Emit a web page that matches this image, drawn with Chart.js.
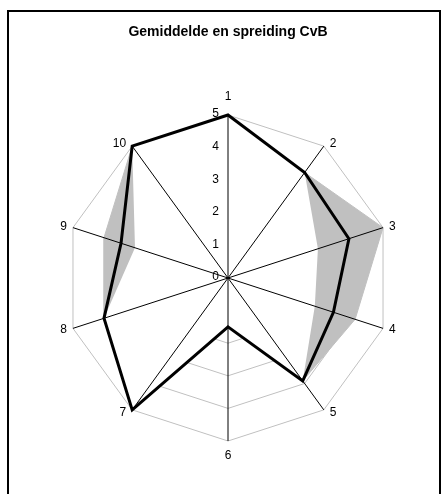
<!DOCTYPE html>
<html>
<head>
<meta charset="utf-8">
<script src="https://cdn.jsdelivr.net/npm/chart.js@4/dist/chart.umd.min.js"></script>
<style>
  html, body { margin: 0; padding: 0; background: #fff; }
  #frame { position: absolute; left: 7px; top: 10px; width: 434px; height: 500px; box-sizing: border-box; border: 2px solid #000; }
  #wrap { position: absolute; left: 0; top: 0; width: 441px; height: 494px; }
</style>
</head>
<body>
<div id="frame"></div>
<div id="wrap"><canvas id="c"></canvas></div>
<script>
const categories = ['1', '2', '3', '4', '5', '6', '7', '8', '9', '10'];
const meanValues = [5, 4, 3.9, 3.4, 3.9, 1.5, 5, 4, 3.45, 5];
const minValues  = [5, 4, 2.9, 2.8, 3.9, 1.5, 5, 4, 3.0, 5];
const maxValues  = [5, 4, 5.0, 4.1, 3.9, 1.5, 5, 4, 4.0, 5];
const titleText = 'Gemiddelde en spreiding CvB';
const FONT = '"Liberation Sans", Arial, sans-serif';

const spokesPlugin = {
  id: 'spokes',
  afterDatasetDraw(chart, args) {
    if (args.index !== 1) return;
    const s = chart.scales.r;
    const ctx = chart.ctx;
    ctx.save();
    ctx.strokeStyle = '#000';
    ctx.lineWidth = 1;
    for (let i = 0; i < categories.length; i++) {
      const p = s.getPointPositionForValue(i, s.max);
      ctx.beginPath();
      ctx.moveTo(s.xCenter, s.yCenter);
      ctx.lineTo(p.x, p.y);
      ctx.stroke();
    }
    ctx.restore();
  },
  afterDraw(chart) {
    const s = chart.scales.r;
    const ctx = chart.ctx;
    ctx.save();
    ctx.fillStyle = '#000';
    ctx.font = '12px ' + FONT;
    ctx.textAlign = 'right';
    ctx.textBaseline = 'middle';
    s.ticks.forEach(t => {
      const y = s.yCenter - s.getDistanceFromCenterForValue(t.value) - 1;
      ctx.fillText(String(t.value), s.xCenter - 9, y);
    });
    const n = categories.length;
    for (let i = 0; i < n; i++) {
      const a = i * 2 * Math.PI / n;
      const sn = Math.sin(a), cs = Math.cos(a);
      const p = s.getPointPositionForValue(i, s.max);
      let x = p.x, y = p.y;
      if (Math.abs(sn) < 1e-6) {
        ctx.textAlign = 'center';
        y = cs > 0 ? p.y - 18 : p.y + 15;
      } else {
        ctx.textAlign = sn > 0 ? 'left' : 'right';
        x = p.x + (sn > 0 ? 6 : -6);
        y = p.y - 3 * cs;
      }
      ctx.fillText(categories[i], x, y);
    }
    ctx.restore();
  }
};

new Chart(document.getElementById('c'), {
  type: 'radar',
  data: {
    labels: categories,
    datasets: [
      { label: 'Gemiddelde', data: meanValues, borderColor: '#000', borderWidth: 3, backgroundColor: 'rgba(0,0,0,0)', fill: false, pointRadius: 0, borderJoinStyle: 'miter' },
      { label: 'Minimum', data: minValues, borderColor: 'rgba(0,0,0,0)', borderWidth: 1, backgroundColor: '#ffffff', fill: 'origin', pointRadius: 0 },
      { label: 'Maximum', data: maxValues, borderColor: '#c0c0c0', borderWidth: 1, backgroundColor: '#c0c0c0', fill: 'origin', pointRadius: 0 }
    ]
  },
  options: {
    responsive: true,
    maintainAspectRatio: false,
    animation: false,
    layout: { padding: { left: 65, right: 50, top: 0, bottom: 53 } },
    plugins: {
      legend: { display: false },
      tooltip: { enabled: false },
      title: {
        display: true,
        text: titleText,
        color: '#000',
        font: { family: FONT, size: 14, weight: 'bold' },
        padding: { top: 23.6, bottom: 74.6 }
      }
    },
    scales: {
      r: {
        min: 0,
        max: 5,
        ticks: { display: false, stepSize: 1 },
        grid: { color: '#c0c0c0', lineWidth: 1 },
        angleLines: { display: false },
        pointLabels: { display: false }
      }
    }
  },
  plugins: [spokesPlugin]
});
</script>
</body>
</html>
